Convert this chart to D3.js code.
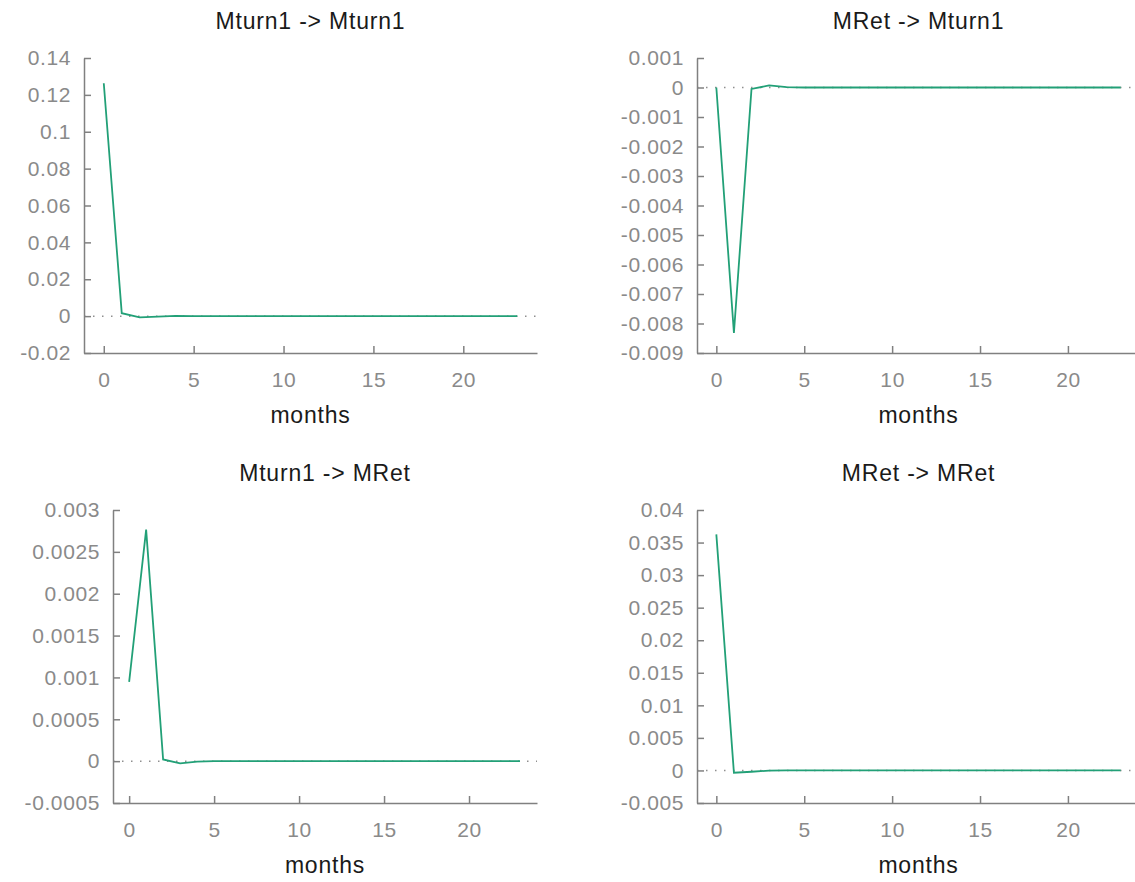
<!DOCTYPE html>
<html>
<head>
<meta charset="utf-8">
<script src="https://cdn.jsdelivr.net/npm/d3@7"></script>
<style>
  html, body { margin: 0; padding: 0; background: #fff; }
  text { font-family: "Liberation Sans", Arial, Helvetica, sans-serif; }
</style>
</head>
<body>
<svg id="canvas" width="1135" height="882"></svg>
<script>
// impulse responses, months 0..23
const months = d3.range(0, 24)

const turnToTurn = [0.1263, 0.0016, -0.0007, -0.0003, 0.0001, 0, 0, 0, 0, 0, 0, 0,
                    0, 0, 0, 0, 0, 0, 0, 0, 0, 0, 0, 0]
const retToTurn  = [0, -0.00832, -0.00005, 0.00007, 0.00001, 0, 0, 0, 0, 0, 0, 0,
                    0, 0, 0, 0, 0, 0, 0, 0, 0, 0, 0, 0]
const turnToRet  = [0.000946, 0.002765, 0.00002, -0.000027, -0.000005, 0, 0, 0, 0, 0, 0, 0,
                    0, 0, 0, 0, 0, 0, 0, 0, 0, 0, 0, 0]
const retToRet   = [0.03626, -0.00035, -0.0002, -0.00003, 0, 0, 0, 0, 0, 0, 0, 0,
                    0, 0, 0, 0, 0, 0, 0, 0, 0, 0, 0, 0]

const titles = ["Mturn1 -> Mturn1", "MRet -> Mturn1", "Mturn1 -> MRet", "MRet -> MRet"]
const xTicks = [0, 5, 10, 15, 20]
const yTicksTL = [-0.02, 0, 0.02, 0.04, 0.06, 0.08, 0.1, 0.12, 0.14]
const yTicksTR = [-0.009, -0.008, -0.007, -0.006, -0.005, -0.004, -0.003, -0.002, -0.001, 0, 0.001]
const yTicksBL = [-0.0005, 0, 0.0005, 0.001, 0.0015, 0.002, 0.0025, 0.003]
const yTicksBR = [-0.005, 0, 0.005, 0.01, 0.015, 0.02, 0.025, 0.03, 0.035, 0.04]

const svg = d3.select("#canvas")

const panels = [
  {title: titles[0], values: turnToTurn, ticks: yTicksTL, xdom: [-1.1, 24.1], box: [84, 537, 58, 353]},
  {title: titles[1], values: retToTurn,  ticks: yTicksTR, xdom: [-1.1, 24.1], box: [697, 1140, 58, 353]},
  {title: titles[2], values: turnToRet,  ticks: yTicksBL, xdom: [-0.95, 24], box: [113, 537, 510, 803]},
  {title: titles[3], values: retToRet,   ticks: yTicksBR, xdom: [-1.1, 24.1], box: [697, 1140, 510, 803]}
]

const gray = "#808080"

panels.forEach(function(p) {
  const [x0, x1, y0, y1] = p.box
  const x = d3.scaleLinear().domain(p.xdom).range([x0, x1])
  const y = d3.scaleLinear().domain(d3.extent(p.ticks)).range([y1, y0])
  const g = svg.append("g")

  // zero reference line
  g.append("line")
    .attr("x1", x0).attr("x2", x1)
    .attr("y1", y(0)).attr("y2", y(0))
    .attr("stroke", "#8f8f8f").attr("stroke-width", 1.5)
    .attr("stroke-dasharray", "1.5,7.5")

  const yAxis = g.append("g")
    .attr("transform", "translate(" + x0 + ",0)")
    .call(d3.axisLeft(y).tickValues(p.ticks).tickFormat(function(d) { return String(d) })
      .tickSizeInner(-7).tickSizeOuter(0).tickPadding(13))
  const xAxis = g.append("g")
    .attr("transform", "translate(0," + y1 + ")")
    .call(d3.axisBottom(x).tickValues(xTicks).tickFormat(function(d) { return String(d) })
      .tickSizeInner(-7).tickSizeOuter(0).tickPadding(19))

  ;[yAxis, xAxis].forEach(function(a) {
    a.select(".domain").attr("stroke", gray).attr("stroke-width", 1.5)
    a.selectAll(".tick line").attr("stroke", gray).attr("stroke-width", 1.5)
    a.selectAll(".tick text")
      .attr("fill", "#8a8a8a")
      .style("font-size", "21px")
      .style("letter-spacing", "0.6px")
  })

  const line = d3.line()
    .x(function(d, i) { return x(months[i]) })
    .y(function(d) { return y(d) })

  g.append("path")
    .datum(p.values)
    .attr("fill", "none")
    .attr("stroke", "#22a077")
    .attr("stroke-width", 1.8)
    .attr("stroke-linejoin", "miter")
    .attr("d", line)

  const cx = (x0 + x1) / 2
  g.append("text")
    .attr("x", cx).attr("y", y0 - 29)
    .attr("text-anchor", "middle")
    .attr("fill", "#1a1a1a")
    .style("font-size", "23px")
    .style("letter-spacing", "0.8px")
    .text(p.title)

  g.append("text")
    .attr("x", cx).attr("y", y1 + 70)
    .attr("text-anchor", "middle")
    .attr("fill", "#1a1a1a")
    .style("font-size", "23px")
    .style("letter-spacing", "0.8px")
    .text("months")
})
</script>
</body>
</html>
